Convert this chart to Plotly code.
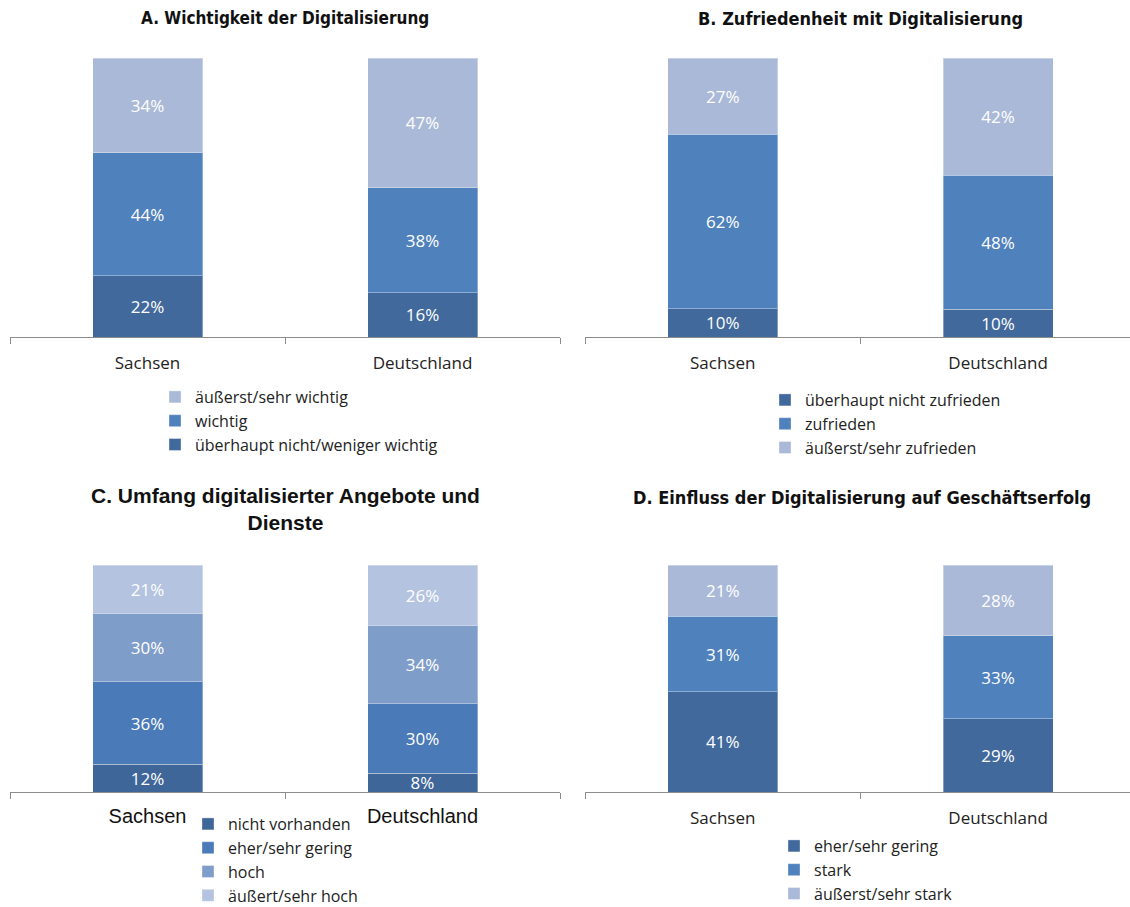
import plotly.graph_objects as go

W, H = 1130, 907

categories = ["Sachsen", "Deutschland"]

# Panel A
a_title = "A. Wichtigkeit der Digitalisierung"
a_series = ["überhaupt nicht/weniger wichtig", "wichtig", "äußerst/sehr wichtig"]
a_values = [[22, 16], [44, 38], [34, 47]]

# Panel B
b_title = "B. Zufriedenheit mit Digitalisierung"
b_series = ["überhaupt nicht zufrieden", "zufrieden", "äußerst/sehr zufrieden"]
b_values = [[10, 10], [62, 48], [27, 42]]

# Panel C
c_title = "C. Umfang digitalisierter Angebote und<br>Dienste"
c_series = ["nicht vorhanden", "eher/sehr gering", "hoch", "äußert/sehr hoch"]
c_values = [[12, 8], [36, 30], [30, 34], [21, 26]]

# Panel D
d_title = "D. Einfluss der Digitalisierung auf Geschäftserfolg"
d_series = ["eher/sehr gering", "stark", "äußerst/sehr stark"]
d_values = [[41, 29], [31, 33], [21, 28]]

col3 = ["#41699C", "#4F81BD", "#AAB9D7"]
col4 = ["#3F6699", "#4A7AB7", "#7F9DC9", "#B4C3DF"]

NARROW = "DejaVu Sans Condensed, Roboto, sans-serif"
BODY = "Open Sans"
ARIAL = "Liberation Sans"

def px(v):
    return v / W

def py(v):
    return 1 - v / H

fig = go.Figure()

panels = [
    ("x", "y", "legend", a_series, a_values, col3),
    ("x2", "y2", "legend2", b_series, b_values, col3),
    ("x3", "y3", "legend3", c_series, c_values, col4),
    ("x4", "y4", "legend4", d_series, d_values, col3),
]

for xa, ya, lg, series, values, cols in panels:
    for name, vals, c in zip(series, values, cols):
        fig.add_trace(go.Bar(
            x=categories, y=vals, name=name, xaxis=xa, yaxis=ya, legend=lg,
            marker=dict(color=c, line=dict(color="rgba(255,255,255,0.35)", width=1)),
            width=0.4, text=vals, texttemplate="%{text}%",
            textposition="inside", insidetextanchor="middle",
            textfont=dict(color="white", size=17, family=BODY),
            constraintext="none",
        ))

xcommon = dict(type="category", showline=True, linecolor="#8c8c8c", linewidth=1,
               ticks="outside", ticklen=6, tickcolor="#8c8c8c", tickson="boundaries",
               showgrid=False, zeroline=False, fixedrange=True)
ycommon = dict(range=[0, 100], visible=False, showgrid=False, fixedrange=True)

topAB, botAB = 58, 337
topCD, botCD = 565, 792

legfont = dict(family=BODY, size=16, color="#222")
catfont = dict(family=BODY, size=17, color="#222")

fig.update_layout(
    width=W, height=H, autosize=False,
    margin=dict(l=0, r=0, t=0, b=0, autoexpand=False),
    paper_bgcolor="white", plot_bgcolor="white",
    barmode="stack", barnorm="percent", showlegend=True,
    xaxis=dict(xcommon, domain=[px(10), px(560)], range=[-0.5, 1.5], anchor="y",
               tickfont=catfont, ticklabelstandoff=11),
    yaxis=dict(ycommon, domain=[py(botAB), py(topAB)], anchor="x"),
    xaxis2=dict(xcommon, domain=[px(585), 1], range=[-0.5, 1.479], anchor="y2",
                tickfont=catfont, ticklabelstandoff=11),
    yaxis2=dict(ycommon, domain=[py(botAB), py(topAB)], anchor="x2"),
    xaxis3=dict(xcommon, domain=[px(10), px(560)], range=[-0.5, 1.5], anchor="y3",
                tickfont=dict(family=ARIAL, size=20, color="#111"), ticklabelstandoff=6),
    yaxis3=dict(ycommon, domain=[py(botCD), py(topCD)], anchor="x3"),
    xaxis4=dict(xcommon, domain=[px(585), 1], range=[-0.5, 1.479], anchor="y4",
                tickfont=catfont, ticklabelstandoff=11),
    yaxis4=dict(ycommon, domain=[py(botCD), py(topCD)], anchor="x4"),
    legend=dict(x=px(155), y=py(380), xanchor="left", yanchor="top", traceorder="reversed",
                font=legfont, bgcolor="rgba(0,0,0,0)"),
    legend2=dict(x=px(765), y=py(383), xanchor="left", yanchor="top", traceorder="normal",
                 font=legfont, bgcolor="rgba(0,0,0,0)"),
    legend3=dict(x=px(188), y=py(807), xanchor="left", yanchor="top", traceorder="normal",
                 font=legfont, bgcolor="rgba(0,0,0,0)"),
    legend4=dict(x=px(774), y=py(829), xanchor="left", yanchor="top", traceorder="normal",
                 font=legfont, bgcolor="rgba(0,0,0,0)"),
)

annos = [
    (a_title, 285, 18, dict(family=NARROW, size=17, color="#111")),
    (b_title, 860, 18, dict(family=NARROW, size=18, color="#111")),
    (c_title, 285, 509, dict(family=ARIAL, size=21, color="#111")),
    (d_title, 862, 497, dict(family=NARROW, size=18, color="#111")),
]
for t, x, y, f in annos:
    fig.add_annotation(text="<b>" + t.replace("<br>", "</b><br><b>") + "</b>",
                       x=px(x), y=py(y), xref="paper", yref="paper",
                       xanchor="center", yanchor="middle", showarrow=False, font=f)

fig.write_html("out.html")
